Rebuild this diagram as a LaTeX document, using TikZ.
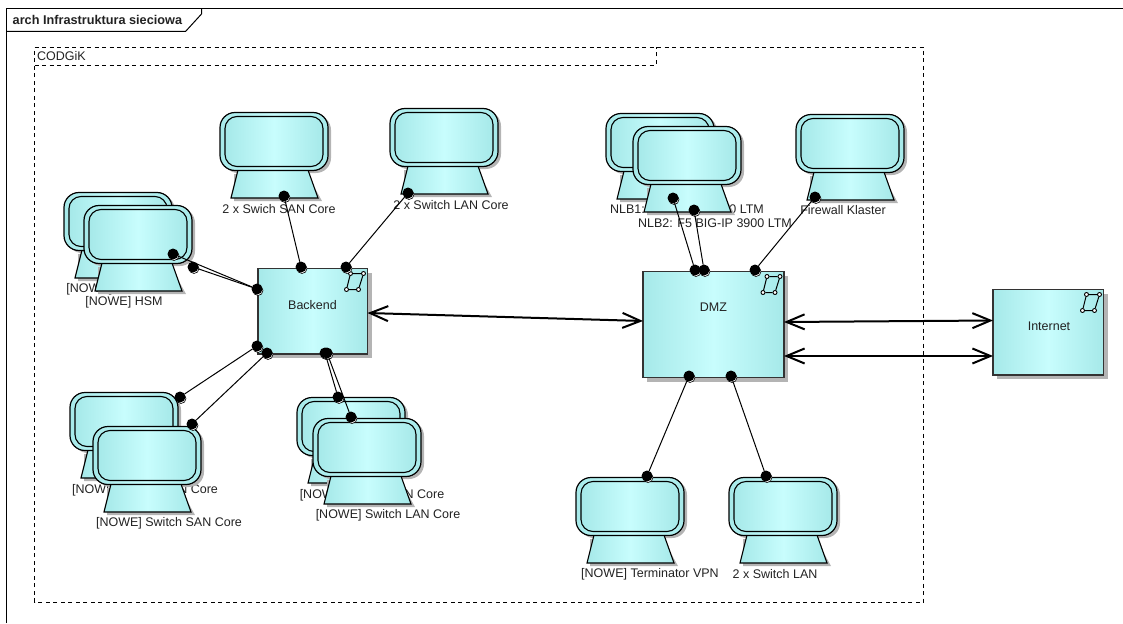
\documentclass[tikz,border=0pt]{standalone}
\usepackage{fontspec}
\setmainfont{Liberation Sans}
\usetikzlibrary{arrows.meta}
\definecolor{cedge}{HTML}{A6E9E9}
\definecolor{cmid}{HTML}{C8FDFD}
\definecolor{cshadow}{HTML}{B4B4B4}
\definecolor{ctext}{HTML}{222222}
\tikzset{
  x=1pt,y=-1pt,
  lbl/.style={font=\fontsize{12.5}{14}\selectfont,text=ctext,inner sep=0pt},
  ground/.style={left color=cedge,right color=cedge,middle color=cmid},
  monitor/.style={draw=black,line width=1.2pt,ground,rounded corners=15pt,minimum width=108pt,minimum height=58pt,inner sep=0pt,outer sep=0pt},
  screen/.style={draw=black,line width=1.1pt,ground,rounded corners=12pt,minimum width=98pt,minimum height=50pt,inner sep=0pt,outer sep=0pt},
  shadowbox/.style={fill=cshadow,rounded corners=15pt,minimum width=108pt,minimum height=58pt,inner sep=0pt,outer sep=0pt},
  block/.style={draw=black!80,line width=1.3pt,ground,inner sep=0pt,outer sep=0pt},
  blockshadow/.style={fill=cshadow,inner sep=0pt,outer sep=0pt},
  port/.style={circle,fill=black,minimum size=11pt,inner sep=0pt,outer sep=0pt},
  portback/.style={circle,draw=black,fill=white,line width=.6pt,minimum size=10pt,inner sep=0pt},
  tiny/.style={circle,draw=black,fill=white,line width=.9pt,minimum size=4pt,inner sep=0pt},
  link/.style={draw=black,line width=1pt},
  flow/.style={draw=black,line width=2pt,{Straight Barb[length=18pt,width=15pt,line width=2pt]}-{Straight Barb[length=18pt,width=15pt,line width=2pt]}},
  frameline/.style={draw=black,line width=1.2pt}
}
% name, x, y (top-left of the monitor), label, label centre x, label centre y
\newcommand{\device}[6]{%
  \fill[cshadow] (#2+14,#3+62) -- (#2+87,#3+62) -- (#2+102,#3+89) -- (#2+14,#3+89) -- cycle;
  \node[shadowbox] (#1-s) at (#2+57,#3+32) {};
  \path[ground,draw=black,line width=1.1pt] (#2+18,#3+58) -- (#2+88,#3+58) -- (#2+98,#3+86) -- (#2+11,#3+86) -- cycle;
  \node[monitor] (#1) at (#2+54,#3+29.5) {};
  \node[screen] (#1-i) at (#2+54,#3+29.5) {};
  \node[lbl] (#1-l) at (#5,#6) {#4};
}
\newcommand{\pport}[3]{%
  \node[portback] (#1-b) at (#2+1,#3+1.5) {};
  \node[port] (#1) at (#2,#3) {};
}
% block: name, x1, y1, x2, y2
\newcommand{\blk}[5]{%
  \node[blockshadow,minimum width=#4-#2,minimum height=#5-#3] (#1-s) at ({(#2+#4)/2+4},{(#3+#5)/2+4}) {};
  \node[block,minimum width=#4-#2,minimum height=#5-#3] (#1) at ({(#2+#4)/2},{(#3+#5)/2}) {};
  \node[tiny] (#1-c1) at (#4-17,#3+5) {};
  \node[tiny] (#1-c2) at (#4-4,#3+5) {};
  \node[tiny] (#1-c3) at (#4-9,#3+21) {};
  \node[tiny] (#1-c4) at (#4-21,#3+21) {};
  \draw[black,line width=1pt] (#1-c1) -- (#1-c2) -- (#1-c3) -- (#1-c4) -- (#1-c1);
}
\begin{document}
\begin{tikzpicture}
\useasboundingbox (0,0) rectangle (1123,623);
% diagram frame
\coordinate (f-tl) at (6.5,8.5);
\coordinate (f-tr) at (1123,8.5);
\coordinate (f-bl) at (6.5,623);
\draw[frameline] (f-bl) -- (f-tl) -- (f-tr);
\coordinate (t1) at (201.5,8.5);
\coordinate (t2) at (201.5,14);
\coordinate (t3) at (185.5,31.5);
\coordinate (t4) at (6.5,31.5);
\draw[frameline,line width=1pt] (t1) -- (t2) -- (t3) -- (t4);
\node[font=\fontsize{12.7}{14}\selectfont\bfseries,text=ctext,inner sep=0pt,anchor=west] (title) at (12.5,20) {arch Infrastruktura sieciowa};
% package
\coordinate (p-a) at (34.5,47.5);
\coordinate (p-b) at (923.5,47.5);
\coordinate (p-c) at (923.5,602);
\coordinate (p-d) at (34.5,602);
\coordinate (p-e) at (34.5,65);
\coordinate (p-f) at (656,65);
\coordinate (p-g) at (656,47.5);
\draw[black,line width=.9pt,dash pattern=on 4pt off 3.5pt] (p-a) -- (p-b) -- (p-c) -- (p-d) -- cycle;
\draw[black,line width=.9pt,dash pattern=on 4pt off 3.5pt] (p-e) -- (p-f) -- (p-g);
\node[lbl,anchor=west] (codgik) at (37,56) {CODGiK};
% devices
\device{san2}{220}{112}{2 x Swich SAN Core}{279}{209}
\device{lan2}{390}{108}{2 x Switch LAN Core}{451}{205}
\device{hsmA}{64}{192}{[NOWE] HSM}{105}{289}
\device{hsmB}{84}{205}{[NOWE] HSM}{124}{302}
\device{nlbA}{606}{113}{NLB1: F5 BIG-IP 3900 LTM}{687}{209}
\device{nlbB}{633}{126}{NLB2: F5 BIG-IP 3900 LTM}{715}{223}
\device{fw}{796}{114}{Firewall Klaster}{843}{210}
\device{sanA}{70}{392}{[NOWE] Switch SAN Core}{145}{490}
\device{sanB}{93}{426}{[NOWE] Switch SAN Core}{169}{523}
\device{lanA}{297}{397}{[NOWE] Switch LAN Core}{372}{495}
\device{lanB}{313}{418}{[NOWE] Switch LAN Core}{388}{515}
\device{vpn}{576}{477}{[NOWE] Terminator VPN}{650}{574}
\device{sw}{729}{477}{2 x Switch LAN}{775}{574}
% blocks
\blk{backend}{258}{268.5}{367.5}{354}
\blk{dmz}{643}{271.5}{784}{377.5}
\blk{inet}{993}{289.5}{1103.5}{375}
\node[lbl] (backend-l) at (312.5,305) {Backend};
\node[lbl] (dmz-l) at (713.5,307) {DMZ};
\node[lbl] (inet-l) at (1049,326) {Internet};
% ports
\pport{q1}{284}{196}
\pport{q2}{301}{267}
\pport{q3}{408}{193}
\pport{q4}{346}{267}
\pport{q5}{173}{254}
\pport{q6}{193}{267}
\pport{q7}{257}{289}
\pport{q8}{180}{397}
\pport{q9}{257}{346}
\pport{q10}{192}{424}
\pport{q11}{267}{353}
\pport{q12}{338}{397}
\pport{q13}{325}{353}
\pport{q14}{351}{417}
\pport{q15}{327}{353}
\pport{q16}{673}{198}
\pport{q17}{695}{270}
\pport{q18}{694}{210}
\pport{q19}{704}{270}
\pport{q20}{815}{197}
\pport{q21}{755}{270}
\pport{q22}{689}{376}
\pport{q23}{647}{476}
\pport{q24}{731}{376}
\pport{q25}{766}{476}
% links
\draw[link] (q1) -- (q2);
\draw[link] (q3) -- (q4);
\draw[link] (q5) -- (q7);
\draw[link] (q6) -- (q7);
\draw[link] (q8) -- (q9);
\draw[link] (q10) -- (q11);
\draw[link] (q12) -- (q13);
\draw[link] (q14) -- (q15);
\draw[link] (q16) -- (q17);
\draw[link] (q18) -- (q19);
\draw[link] (q20) -- (q21);
\draw[link] (q22) -- (q23);
\draw[link] (q24) -- (q25);
% flows
\coordinate (a1) at (367.5,313);
\coordinate (a2) at (643,321);
\coordinate (a3) at (784,322);
\coordinate (a4) at (993,320.5);
\coordinate (a5) at (784,356);
\coordinate (a6) at (993,356);
\draw[flow] (a1) -- (a2);
\draw[flow] (a3) -- (a4);
\draw[flow] (a5) -- (a6);
\end{tikzpicture}
\end{document}
